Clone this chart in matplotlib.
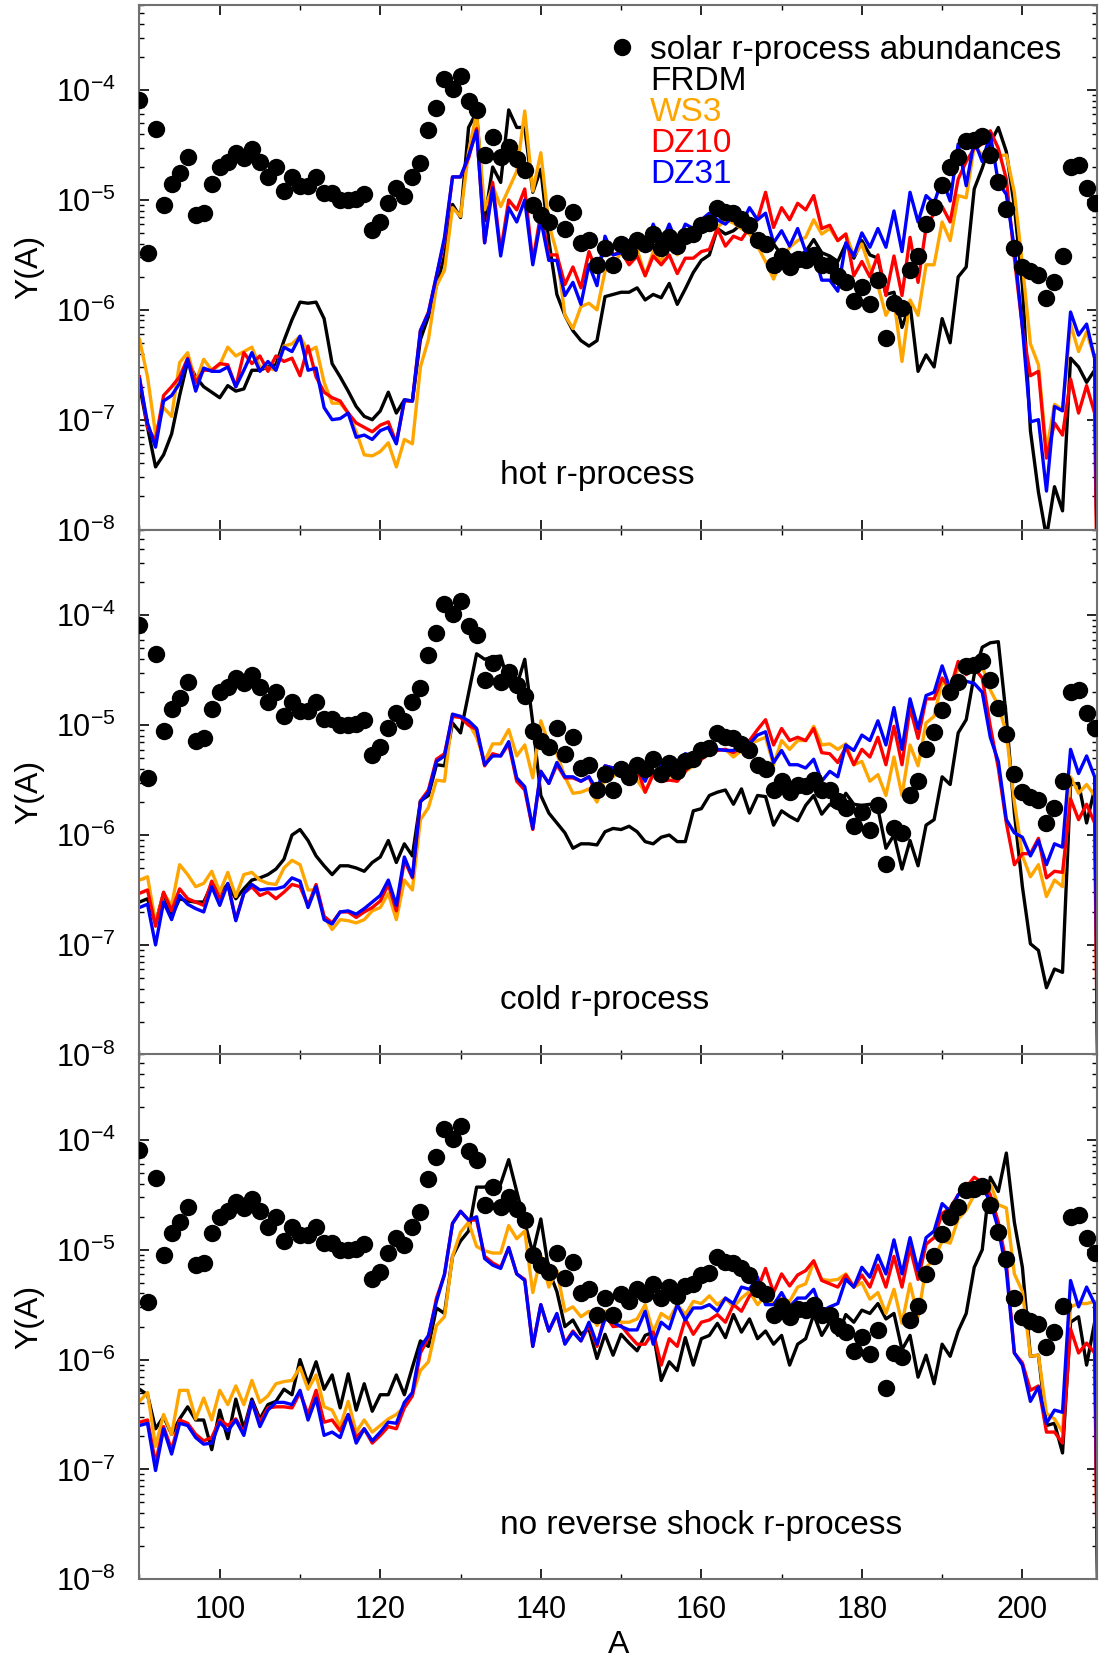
import numpy as np
import matplotlib
matplotlib.use("Agg")
import matplotlib.pyplot as plt
from matplotlib.ticker import LogLocator, MultipleLocator, NullFormatter

plt.rcParams['font.family'] = ['Liberation Sans', 'DejaVu Sans']
plt.rcParams['mathtext.fontset'] = 'custom'
plt.rcParams['mathtext.rm'] = 'Liberation Sans'
plt.rcParams['mathtext.default'] = 'regular'

# mass numbers of the network output
A = np.arange(90, 210)
# the chains end at A=210 (abundance practically zero)
A_END = 210
Y_END = 1e-12

# solar r-process abundances, log10 Y(A)
solar_log = [-4.09, -5.48, -4.35, -5.05, -4.85, -4.75, -4.61, -5.14, -5.12, -4.85,
             -4.70, -4.65, -4.57, -4.62, -4.54, -4.65, -4.79, -4.70, -4.92, -4.79,
             -4.87, -4.87, -4.79, -4.94, -4.94, -5.00, -5.00, -4.99, -4.95, -5.27,
             -5.20, -5.03, -4.89, -4.96, -4.79, -4.66, -4.36, -4.16, -3.90, -3.99,
             -3.87, -4.10, -4.18, -4.59, -4.43, -4.61, -4.52, -4.63, -4.73, -5.05,
             -5.14, -5.20, -5.03, -5.26, -5.11, -5.39, -5.36, -5.59, -5.44, -5.59,
             -5.40, -5.47, -5.36, -5.40, -5.31, -5.44, -5.34, -5.42, -5.33, -5.31,
             -5.23, -5.21, -5.07, -5.11, -5.12, -5.17, -5.23, -5.36, -5.40, -5.59,
             -5.51, -5.61, -5.54, -5.55, -5.50, -5.59, -5.59, -5.69, -5.75, -5.92,
             -5.79, -5.95, -5.73, -6.26, -5.94, -5.98, -5.64, -5.51, -5.22, -5.06,
             -4.86, -4.70, -4.61, -4.46, -4.45, -4.42, -4.59, -4.84, -5.08, -5.44,
             -5.61, -5.65, -5.68, -5.89, -5.75, -5.51, -4.70, -4.68, -4.89, -5.03]

# ---- hot r-process ----
hot_frdm = [-6.69, -7.07, -7.43, -7.32, -7.13, -6.78, -6.47, -6.61, -6.70, -6.75,
            -6.80, -6.69, -6.74, -6.72, -6.55, -6.55, -6.52, -6.50, -6.28, -6.09,
            -5.93, -5.94, -5.93, -6.08, -6.49, -6.61, -6.74, -6.88, -6.97, -7.00,
            -6.92, -6.75, -6.94, -6.82, -6.83, -6.27, -6.06, -5.78, -5.51, -5.04,
            -5.16, -4.34, -4.20, -5.19, -4.70, -4.84, -4.18, -4.34, -4.34, -4.93,
            -4.72, -5.37, -5.86, -6.05, -6.19, -6.28, -6.33, -6.28, -5.88, -5.86,
            -5.84, -5.84, -5.80, -5.91, -5.86, -5.89, -5.76, -5.95, -5.81, -5.66,
            -5.55, -5.50, -5.26, -5.31, -5.28, -5.22, -5.27, -5.37, -5.42, -5.40,
            -5.50, -5.50, -5.51, -5.47, -5.36, -5.48, -5.51, -5.56, -5.40, -5.53,
            -5.37, -5.50, -5.53, -5.86, -5.84, -6.16, -5.95, -6.56, -6.41, -6.52,
            -6.08, -6.30, -5.70, -5.61, -4.90, -4.71, -4.48, -4.34, -4.56, -5.06,
            -5.78, -7.10, -7.66, -8.07, -7.61, -7.83, -6.44, -6.52, -6.66, -6.55]
hot_ws3 = [-6.27, -6.61, -7.13, -6.89, -6.97, -6.48, -6.39, -6.66, -6.45, -6.55,
           -6.50, -6.34, -6.42, -6.38, -6.34, -6.52, -6.53, -6.55, -6.33, -6.31,
           -6.24, -6.38, -6.34, -6.66, -6.85, -6.85, -6.94, -7.11, -7.32, -7.33,
           -7.29, -7.21, -7.43, -7.18, -7.22, -6.52, -6.27, -5.78, -5.64, -5.07,
           -5.15, -4.56, -4.21, -5.09, -4.87, -5.06, -4.90, -4.74, -4.19, -4.92,
           -4.57, -5.22, -5.48, -6.05, -6.17, -5.97, -5.94, -6.00, -5.65, -5.59,
           -5.48, -5.56, -5.45, -5.69, -5.47, -5.56, -5.37, -5.50, -5.37, -5.31,
           -5.28, -5.26, -5.25, -5.18, -5.21, -5.26, -5.31, -5.42, -5.56, -5.72,
           -5.54, -5.43, -5.37, -5.34, -5.18, -5.31, -5.26, -5.37, -5.31, -5.51,
           -5.40, -5.62, -5.78, -6.05, -5.91, -6.47, -5.91, -6.05, -5.59, -5.59,
           -5.20, -5.37, -4.96, -4.98, -4.51, -4.59, -4.56, -4.60, -4.59, -4.93,
           -5.59, -6.31, -6.50, -7.29, -6.86, -6.91, -6.13, -6.38, -6.20, -6.44]
hot_dz10 = [-6.61, -7.07, -7.19, -6.78, -6.70, -6.61, -6.44, -6.66, -6.55, -6.55,
            -6.49, -6.50, -6.70, -6.39, -6.49, -6.42, -6.56, -6.42, -6.47, -6.44,
            -6.60, -6.33, -6.61, -6.75, -6.80, -6.83, -6.94, -7.03, -7.07, -7.11,
            -7.05, -7.02, -7.21, -6.83, -6.83, -6.19, -6.02, -5.69, -5.37, -4.79,
            -4.79, -4.62, -4.35, -5.39, -4.84, -5.47, -5.00, -5.09, -4.90, -5.56,
            -5.12, -5.50, -5.50, -5.77, -5.61, -5.80, -5.47, -5.66, -5.37, -5.50,
            -5.47, -5.59, -5.51, -5.69, -5.51, -5.59, -5.50, -5.67, -5.53, -5.53,
            -5.47, -5.45, -5.26, -5.42, -5.33, -5.36, -5.25, -5.18, -4.93, -5.25,
            -5.07, -5.18, -5.03, -5.09, -4.96, -5.26, -5.23, -5.37, -5.31, -5.69,
            -5.56, -5.70, -5.50, -5.87, -5.51, -5.87, -5.34, -5.75, -5.25, -5.12,
            -5.06, -5.20, -4.81, -4.65, -4.53, -4.49, -4.37, -4.53, -4.81, -5.53,
            -6.16, -6.60, -6.56, -7.35, -7.03, -7.14, -6.63, -6.94, -6.69, -6.94]
hot_dz31 = [-6.63, -7.03, -7.25, -6.83, -6.78, -6.67, -6.45, -6.74, -6.53, -6.56,
            -6.56, -6.52, -6.70, -6.55, -6.39, -6.56, -6.47, -6.55, -6.34, -6.38,
            -6.24, -6.55, -6.53, -6.89, -7.00, -6.99, -6.94, -7.16, -7.14, -7.18,
            -7.10, -7.07, -7.22, -6.82, -6.83, -6.19, -6.03, -5.69, -5.34, -4.79,
            -4.79, -4.60, -4.37, -5.39, -4.89, -5.51, -5.07, -5.20, -5.00, -5.59,
            -5.18, -5.55, -5.55, -5.87, -5.75, -5.95, -5.59, -5.78, -5.33, -5.50,
            -5.48, -5.37, -5.33, -5.47, -5.22, -5.40, -5.22, -5.40, -5.22, -5.26,
            -5.18, -5.12, -5.18, -5.22, -5.14, -5.22, -5.07, -5.18, -5.12, -5.39,
            -5.28, -5.42, -5.26, -5.47, -5.47, -5.73, -5.73, -5.83, -5.39, -5.51,
            -5.30, -5.43, -5.26, -5.43, -5.10, -5.47, -4.93, -5.20, -4.96, -5.03,
            -4.81, -5.01, -4.49, -4.87, -4.46, -4.65, -4.40, -4.84, -4.95, -5.44,
            -6.16, -7.02, -7.00, -7.65, -6.88, -6.92, -6.02, -6.23, -6.13, -6.44]

# ---- cold r-process ----
cold_frdm = [-6.61, -6.58, -6.80, -6.53, -6.74, -6.58, -6.60, -6.61, -6.61, -6.45,
             -6.52, -6.45, -6.58, -6.49, -6.41, -6.39, -6.36, -6.31, -6.22, -6.00,
             -5.95, -6.05, -6.19, -6.28, -6.36, -6.28, -6.28, -6.30, -6.33, -6.25,
             -6.20, -6.05, -6.25, -6.08, -6.19, -5.69, -5.64, -5.36, -5.37, -4.98,
             -5.07, -4.71, -4.35, -4.40, -4.38, -4.37, -4.62, -4.64, -4.40, -4.98,
             -5.64, -5.80, -5.89, -5.98, -6.12, -6.08, -6.08, -6.09, -5.97, -5.94,
             -5.95, -5.92, -5.97, -6.06, -6.08, -6.02, -6.00, -6.06, -6.06, -5.78,
             -5.76, -5.64, -5.61, -5.59, -5.72, -5.58, -5.80, -5.64, -5.65, -5.91,
             -5.78, -5.83, -5.87, -5.73, -5.64, -5.81, -5.72, -5.76, -5.62, -5.72,
             -5.73, -5.72, -5.76, -6.12, -6.00, -6.31, -6.05, -6.28, -5.91, -5.86,
             -5.47, -5.54, -5.07, -4.95, -4.54, -4.29, -4.25, -4.24, -4.93, -5.80,
             -6.47, -6.99, -7.05, -7.39, -7.22, -7.25, -5.54, -5.53, -5.89, -5.58]
cold_ws3 = [-6.41, -6.38, -6.80, -6.53, -6.64, -6.27, -6.36, -6.47, -6.44, -6.33,
            -6.52, -6.34, -6.56, -6.36, -6.34, -6.41, -6.44, -6.45, -6.30, -6.23,
            -6.27, -6.50, -6.50, -6.74, -6.86, -6.77, -6.78, -6.80, -6.77, -6.69,
            -6.66, -6.53, -6.77, -6.41, -6.50, -5.86, -5.75, -5.50, -5.51, -4.90,
            -4.92, -4.98, -5.11, -5.33, -5.17, -5.17, -5.04, -5.28, -5.18, -5.48,
            -4.96, -5.17, -5.26, -5.47, -5.62, -5.61, -5.58, -5.70, -5.48, -5.47,
            -5.39, -5.39, -5.50, -5.61, -5.43, -5.50, -5.45, -5.51, -5.42, -5.37,
            -5.31, -5.26, -5.23, -5.22, -5.29, -5.23, -5.17, -5.14, -5.11, -5.36,
            -5.14, -5.22, -5.14, -5.14, -5.01, -5.18, -5.17, -5.22, -5.17, -5.36,
            -5.33, -5.51, -5.45, -5.64, -5.29, -5.64, -5.18, -5.37, -4.98, -4.92,
            -4.60, -4.68, -4.48, -4.53, -4.51, -4.46, -4.68, -4.82, -5.07, -5.70,
            -6.19, -6.38, -6.27, -6.56, -6.41, -6.47, -5.47, -5.62, -5.54, -5.64]
cold_dz10 = [-6.53, -6.50, -6.83, -6.52, -6.69, -6.49, -6.58, -6.61, -6.64, -6.42,
             -6.58, -6.45, -6.77, -6.53, -6.47, -6.55, -6.52, -6.58, -6.52, -6.45,
             -6.47, -6.64, -6.45, -6.74, -6.80, -6.70, -6.70, -6.75, -6.70, -6.66,
             -6.60, -6.45, -6.69, -6.23, -6.39, -5.69, -5.59, -5.31, -5.26, -4.92,
             -4.93, -5.00, -5.04, -5.37, -5.26, -5.28, -5.17, -5.51, -5.59, -5.95,
             -5.42, -5.53, -5.36, -5.48, -5.48, -5.51, -5.47, -5.64, -5.37, -5.39,
             -5.37, -5.40, -5.39, -5.61, -5.45, -5.51, -5.50, -5.51, -5.42, -5.33,
             -5.31, -5.26, -5.23, -5.22, -5.25, -5.20, -5.14, -5.04, -4.95, -5.18,
             -5.03, -5.14, -5.11, -5.14, -5.03, -5.25, -5.26, -5.34, -5.20, -5.36,
             -5.22, -5.29, -5.11, -5.36, -5.01, -5.36, -4.84, -5.12, -4.76, -4.76,
             -4.57, -4.67, -4.42, -4.54, -4.48, -4.57, -5.01, -5.39, -5.89, -6.27,
             -6.17, -6.17, -6.03, -6.39, -6.33, -6.34, -5.67, -5.86, -5.72, -5.89]
cold_dz31 = [-6.66, -6.63, -7.00, -6.61, -6.77, -6.55, -6.63, -6.67, -6.70, -6.47,
             -6.64, -6.44, -6.78, -6.53, -6.45, -6.50, -6.49, -6.49, -6.47, -6.39,
             -6.42, -6.66, -6.47, -6.77, -6.81, -6.70, -6.69, -6.72, -6.67, -6.61,
             -6.55, -6.41, -6.64, -6.20, -6.38, -5.70, -5.61, -5.33, -5.28, -4.90,
             -4.92, -4.96, -5.03, -5.36, -5.28, -5.28, -5.15, -5.48, -5.56, -5.94,
             -5.42, -5.53, -5.34, -5.47, -5.47, -5.51, -5.47, -5.59, -5.37, -5.39,
             -5.37, -5.39, -5.37, -5.51, -5.34, -5.36, -5.33, -5.33, -5.26, -5.28,
             -5.22, -5.22, -5.22, -5.23, -5.23, -5.18, -5.17, -5.09, -5.06, -5.34,
             -5.23, -5.36, -5.36, -5.39, -5.31, -5.51, -5.42, -5.47, -5.18, -5.23,
             -5.09, -5.14, -4.96, -5.18, -4.84, -5.22, -4.76, -5.03, -4.73, -4.70,
             -4.46, -4.67, -4.56, -4.60, -4.62, -4.70, -5.11, -5.33, -5.86, -5.98,
             -6.02, -6.19, -6.05, -6.27, -6.08, -6.11, -5.22, -5.44, -5.28, -5.47]

# ---- no reverse shock r-process ----
nors_frdm = [-6.27, -6.32, -6.63, -6.52, -6.68, -6.54, -6.43, -6.55, -6.55, -6.82,
             -6.46, -6.72, -6.36, -6.63, -6.36, -6.54, -6.41, -6.38, -6.27, -6.32,
             -6.00, -6.22, -6.02, -6.27, -6.14, -6.44, -6.13, -6.46, -6.22, -6.47,
             -6.32, -6.32, -6.14, -6.32, -6.07, -5.83, -5.88, -5.53, -5.58, -5.06,
             -4.92, -4.83, -4.43, -4.43, -4.39, -4.40, -4.18, -4.47, -4.75, -5.03,
             -4.72, -5.19, -5.38, -5.70, -5.64, -5.77, -5.72, -5.99, -5.77, -5.96,
             -5.77, -5.85, -5.92, -5.78, -5.75, -6.19, -6.02, -6.10, -5.80, -6.05,
             -5.81, -5.78, -5.67, -5.80, -5.59, -5.75, -5.63, -5.81, -5.74, -5.86,
             -5.78, -6.05, -5.86, -5.81, -5.59, -5.78, -5.66, -5.78, -5.59, -5.66,
             -5.55, -5.58, -5.49, -5.63, -5.58, -5.91, -5.78, -6.16, -5.96, -6.22,
             -5.86, -5.97, -5.74, -5.58, -5.16, -5.00, -4.34, -4.47, -4.12, -4.75,
             -5.16, -5.97, -5.96, -6.60, -6.58, -6.85, -5.66, -5.61, -6.05, -5.66]
nors_ws3 = [-6.38, -6.30, -6.79, -6.50, -6.68, -6.28, -6.28, -6.54, -6.35, -6.55,
            -6.28, -6.41, -6.24, -6.41, -6.19, -6.39, -6.33, -6.22, -6.20, -6.19,
            -6.07, -6.27, -6.14, -6.43, -6.46, -6.61, -6.38, -6.66, -6.55, -6.66,
            -6.60, -6.54, -6.50, -6.43, -6.32, -6.10, -6.02, -5.69, -5.61, -5.06,
            -4.84, -4.75, -4.97, -5.01, -5.03, -5.03, -4.78, -4.90, -4.83, -5.39,
            -5.06, -5.34, -5.19, -5.56, -5.52, -5.61, -5.56, -5.69, -5.56, -5.56,
            -5.66, -5.66, -5.63, -5.50, -5.75, -5.58, -5.63, -5.50, -5.59, -5.47,
            -5.49, -5.42, -5.50, -5.44, -5.52, -5.44, -5.38, -5.50, -5.42, -5.49,
            -5.44, -5.47, -5.34, -5.31, -5.11, -5.27, -5.28, -5.27, -5.22, -5.34,
            -5.30, -5.45, -5.39, -5.58, -5.36, -5.67, -5.31, -5.61, -5.16, -5.09,
            -4.92, -4.94, -4.72, -4.64, -4.50, -4.43, -4.40, -4.59, -4.62, -5.22,
            -5.38, -5.97, -5.96, -6.49, -6.54, -6.66, -5.52, -5.49, -5.49, -5.47]
nors_dz10 = [-6.57, -6.55, -6.94, -6.61, -6.82, -6.55, -6.58, -6.68, -6.74, -6.71,
             -6.55, -6.60, -6.54, -6.66, -6.38, -6.57, -6.44, -6.43, -6.43, -6.44,
             -6.30, -6.50, -6.28, -6.57, -6.55, -6.65, -6.50, -6.71, -6.63, -6.76,
             -6.69, -6.61, -6.63, -6.44, -6.33, -5.94, -5.80, -5.44, -5.23, -4.76,
             -4.65, -4.73, -4.73, -5.06, -5.12, -5.16, -4.98, -5.22, -5.27, -5.88,
             -5.50, -5.74, -5.59, -5.85, -5.74, -5.83, -5.69, -5.88, -5.59, -5.70,
             -5.69, -5.78, -5.86, -5.86, -5.75, -6.05, -5.81, -5.88, -5.63, -5.77,
             -5.66, -5.64, -5.59, -5.66, -5.50, -5.56, -5.42, -5.36, -5.17, -5.39,
             -5.22, -5.33, -5.23, -5.19, -5.10, -5.28, -5.31, -5.34, -5.23, -5.34,
             -5.23, -5.34, -5.14, -5.34, -5.06, -5.34, -4.98, -5.27, -4.95, -4.89,
             -4.67, -4.62, -4.50, -4.43, -4.34, -4.39, -4.50, -4.75, -5.12, -5.94,
             -6.03, -6.28, -6.24, -6.66, -6.66, -6.76, -5.72, -5.94, -5.85, -5.94]
nors_dz31 = [-6.60, -6.58, -7.01, -6.63, -6.86, -6.58, -6.60, -6.71, -6.77, -6.76,
             -6.57, -6.65, -6.55, -6.69, -6.38, -6.61, -6.46, -6.39, -6.39, -6.41,
             -6.28, -6.55, -6.35, -6.69, -6.66, -6.71, -6.50, -6.76, -6.63, -6.74,
             -6.66, -6.57, -6.58, -6.39, -6.30, -5.89, -5.78, -5.47, -5.22, -4.76,
             -4.65, -4.73, -4.70, -5.08, -5.14, -5.17, -4.98, -5.22, -5.28, -5.88,
             -5.50, -5.74, -5.58, -5.86, -5.75, -5.83, -5.66, -5.86, -5.63, -5.66,
             -5.70, -5.73, -5.73, -5.56, -5.86, -5.66, -5.72, -5.50, -5.64, -5.53,
             -5.53, -5.50, -5.56, -5.44, -5.49, -5.34, -5.36, -5.25, -5.50, -5.50,
             -5.39, -5.52, -5.44, -5.44, -5.36, -5.56, -5.52, -5.49, -5.27, -5.34,
             -5.16, -5.25, -5.05, -5.22, -4.91, -5.22, -4.89, -5.19, -4.89, -4.83,
             -4.58, -4.65, -4.50, -4.45, -4.42, -4.43, -4.56, -4.81, -5.19, -5.94,
             -6.05, -6.38, -6.25, -6.58, -6.46, -6.48, -5.28, -5.52, -5.34, -5.49]

models = ['FRDM', 'WS3', 'DZ10', 'DZ31']
colors = ['black', 'orange', 'red', 'blue']
titles = ['hot r-process', 'cold r-process', 'no reverse shock r-process']

# figure layout: three panels stacked with no gap
fig = plt.figure(figsize=(11.01, 16.61), dpi=100)
left, width, height = 0.1267, 0.8697, 0.3160
bottoms = [0.6812, 0.3650, 0.0492]
axes = [fig.add_axes([left, b, width, height]) for b in bottoms]

panel_series = [
    [hot_frdm, hot_ws3, hot_dz10, hot_dz31],
    [cold_frdm, cold_ws3, cold_dz10, cold_dz31],
    [nors_frdm, nors_ws3, nors_dz10, nors_dz31],
]

A_line = np.append(A, A_END)

def draw_panel(ax, series, title):
    handles = []
    for logy, c, name in zip(series, colors, models):
        y = np.append(10.0 ** np.array(logy), Y_END)
        h, = ax.plot(A_line, y, color=c, lw=2.4, label=name)
        handles.append(h)
    dots, = ax.plot(A, 10.0 ** np.array(solar_log), 'o', color='black', ms=11.5,
                    zorder=5, label='solar r-process abundances')
    ax.set_yscale('log')
    ax.set_xlim(90, 209.3)
    ax.set_ylim(1e-8, 6e-4)
    ax.xaxis.set_major_locator(MultipleLocator(20))
    ax.xaxis.set_minor_locator(MultipleLocator(10))
    ax.yaxis.set_major_locator(LogLocator(base=10, numticks=20))
    ax.yaxis.set_minor_locator(LogLocator(base=10, subs=np.arange(2, 10), numticks=20))
    ax.yaxis.set_minor_formatter(NullFormatter())
    ax.tick_params(which='both', direction='in', top=True, right=True, labelsize=22)
    ax.tick_params(which='major', length=7, width=1.2)
    ax.tick_params(which='minor', length=3.5, width=1.0)
    ax.tick_params(axis='y', pad=17)
    ax.tick_params(axis='x', pad=11)
    for sp in ax.spines.values():
        sp.set_color('#707070')
        sp.set_linewidth(1.5)
    ax.set_ylabel('Y(A)', fontsize=23)
    ax.yaxis.set_label_coords(-0.099, 0.5)
    ax.text(0.3765, 0.103, title, transform=ax.transAxes, va='center', fontsize=24)
    return dots, handles

for i, ax in enumerate(axes):
    dots, handles = draw_panel(ax, panel_series[i], titles[i])
    if i == 0:
        leg = ax.legend(handles=[dots] + handles, loc='upper left',
                        bbox_to_anchor=(0.49, 0.943), frameon=False, fontsize=24,
                        borderpad=0, borderaxespad=0, handlelength=0.8,
                        handletextpad=0.45, labelspacing=0.0, numpoints=1)
        for h in leg.legend_handles[1:]:
            h.set_visible(False)
        for t, c in zip(leg.get_texts(), ['black'] + colors):
            t.set_color(c)
    if i < 2:
        ax.tick_params(axis='x', labelbottom=False)

axes[2].set_xlabel('A', fontsize=23)
axes[2].xaxis.set_label_coords(0.5, -0.097)

fig.savefig('out.png', dpi=100)
